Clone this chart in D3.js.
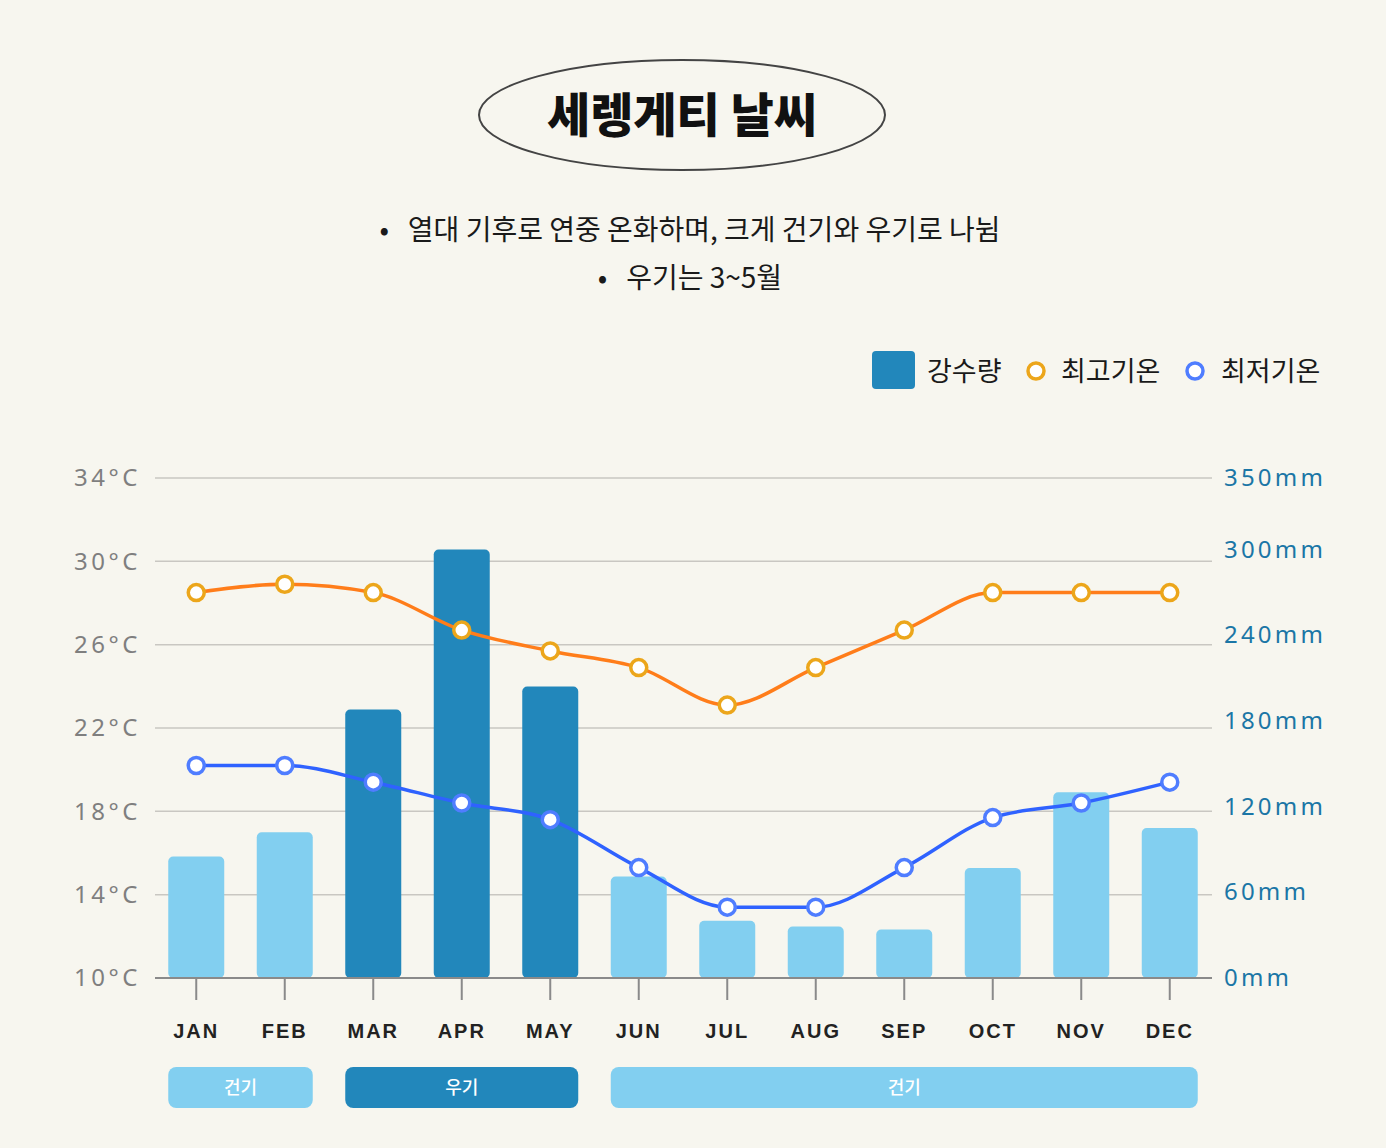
<!DOCTYPE html>
<html>
<head>
  <meta charset="utf-8">
  <title>세렝게티 날씨</title>
  <script src="https://d3js.org/d3.v7.min.js"></script>
  <style>
    html, body { margin: 0; padding: 0; background: #f7f6ef; }
    svg { display: block; font-family: "Noto Sans CJK KR", "Noto Sans", sans-serif; }
    .note { white-space: pre; }
  </style>
</head>
<body>
  <div id="chartholder"></div>

  <script type="text/javascript">
    // data
    var months = ["JAN", "FEB", "MAR", "APR", "MAY", "JUN", "JUL", "AUG", "SEP", "OCT", "NOV", "DEC"];
    var rainfall = [85, 102, 188, 300, 204, 71, 40, 36, 34, 77, 130, 105];
    var rainySeason = [false, false, true, true, true, false, false, false, false, false, false, false];
    var maxTemp = [28.5, 28.9, 28.5, 26.7, 25.7, 24.9, 23.1, 24.9, 26.7, 28.5, 28.5, 28.5];
    var minTemp = [20.2, 20.2, 19.4, 18.4, 17.6, 15.3, 13.4, 13.4, 15.3, 17.7, 18.4, 19.4];
    var tempTicks = [10, 14, 18, 22, 26, 30, 34];
    var rainTicks = [0, 60, 120, 180, 240, 300, 350];
    var seasons = [
      { label: "건기", from: "JAN", to: "FEB", rainy: false },
      { label: "우기", from: "MAR", to: "MAY", rainy: true },
      { label: "건기", from: "JUN", to: "DEC", rainy: false }
    ];
    var notes = ["•   열대 기후로 연중 온화하며, 크게 건기와 우기로 나뉨", "•   우기는 3~5월"];

    var W = 1386, H = 1148;
    var plotTop = 478, plotBottom = 978, plotLeft = 155, plotRight = 1212;
    var colDry = "#82cff0", colWet = "#2287bb";
    var colMax = "#ff7d1a", colMaxPt = "#eca61b";
    var colMin = "#2f62ff", colMinPt = "#4f7dff";

    var svg = d3.select("#chartholder").append("svg")
      .attr("width", W).attr("height", H);

    svg.append("rect").attr("width", W).attr("height", H).attr("fill", "#f7f6ef");

    // title
    svg.append("ellipse")
      .attr("cx", 682).attr("cy", 115).attr("rx", 203).attr("ry", 55)
      .attr("fill", "none").attr("stroke", "#444").attr("stroke-width", 2);
    svg.append("text")
      .attr("x", 682).attr("y", 132)
      .attr("text-anchor", "middle")
      .attr("font-size", 47).attr("font-weight", 900).attr("fill", "#111")
      .text("세렝게티 날씨");

    svg.selectAll(".note").data(notes).enter().append("text")
      .attr("class", "note")
      .attr("x", 690).attr("y", function(d, i) { return 240 + i * 48; })
      .attr("text-anchor", "middle")
      .attr("font-size", 28).attr("fill", "#1a1a1a")
      .text(function(d) { return d; });

    // scales
    var x = d3.scaleBand().domain(months).range([152, 1214]);
    var barW = 56;
    var yT = d3.scaleLinear().domain([10, 34]).range([plotBottom, plotTop]);
    var yR = d3.scaleLinear().domain([0, 350]).range([plotBottom, plotTop]);
    var cx = function(m) { return x(m) + x.bandwidth() / 2; };

    // grid
    svg.append("g").selectAll("line").data(tempTicks.slice(1)).enter().append("line")
      .attr("x1", plotLeft).attr("x2", plotRight)
      .attr("y1", function(d) { return yT(d); }).attr("y2", function(d) { return yT(d); })
      .attr("stroke", "#c9c7c2").attr("stroke-width", 1.5);

    // left axis
    var leftAxis = d3.axisLeft(yT).tickValues(tempTicks).tickSize(0).tickPadding(0)
      .tickFormat(function(d) { return d + "°C"; });
    var gl = svg.append("g").attr("transform", "translate(141,0)").call(leftAxis);
    gl.select(".domain").remove();
    gl.selectAll("text")
      .attr("font-size", 24).attr("fill", "#7f7f7f")
      .attr("letter-spacing", "3.5px").attr("font-family", "'Noto Sans', sans-serif");

    // right axis
    var rightAxis = d3.axisRight(yR).tickValues(rainTicks).tickSize(0).tickPadding(0)
      .tickFormat(function(d) { return d + "mm"; });
    var gr = svg.append("g").attr("transform", "translate(1224,0)").call(rightAxis);
    gr.select(".domain").remove();
    gr.selectAll("text")
      .attr("font-size", 24).attr("fill", "#1b76a6")
      .attr("letter-spacing", "3.2px").attr("font-family", "'Noto Sans', sans-serif");

    // bars
    svg.append("g").selectAll("rect").data(months).enter().append("rect")
      .attr("x", function(d) { return cx(d) - barW / 2; })
      .attr("y", function(d, i) { return yR(rainfall[i]); })
      .attr("width", barW)
      .attr("height", function(d, i) { return plotBottom - yR(rainfall[i]); })
      .attr("rx", 5)
      .attr("fill", function(d, i) { return rainySeason[i] ? colWet : colDry; });

    // baseline and ticks
    var xAxis = d3.axisBottom(x).tickSize(22).tickPadding(24).tickSizeOuter(0);
    var gx = svg.append("g").attr("transform", "translate(0," + plotBottom + ")").call(xAxis);
    gx.select(".domain").attr("d", "M" + plotLeft + ",0H" + plotRight).attr("stroke", "#8a8a8a").attr("stroke-width", 2);
    gx.selectAll(".tick line").attr("stroke", "#8a8a8a").attr("stroke-width", 2);
    gx.selectAll(".tick text")
      .attr("font-size", 20).attr("font-weight", 700).attr("fill", "#222")
      .attr("letter-spacing", "2px");

    // lines
    var tempLine = d3.line()
      .x(function(d, i) { return cx(months[i]); })
      .y(function(d) { return yT(d); })
      .curve(d3.curveMonotoneX);

    svg.append("path").datum(maxTemp).attr("d", tempLine)
      .attr("fill", "none").attr("stroke", colMax).attr("stroke-width", 3.5);
    svg.append("path").datum(minTemp).attr("d", tempLine)
      .attr("fill", "none").attr("stroke", colMin).attr("stroke-width", 3.5);

    svg.append("g").selectAll("circle").data(maxTemp).enter().append("circle")
      .attr("cx", function(d, i) { return cx(months[i]); })
      .attr("cy", function(d) { return yT(d); })
      .attr("r", 8).attr("fill", "#fff").attr("stroke", colMaxPt).attr("stroke-width", 3.5);
    svg.append("g").selectAll("circle").data(minTemp).enter().append("circle")
      .attr("cx", function(d, i) { return cx(months[i]); })
      .attr("cy", function(d) { return yT(d); })
      .attr("r", 8).attr("fill", "#fff").attr("stroke", colMinPt).attr("stroke-width", 3.5);

    // season strip
    var gs = svg.append("g").selectAll("g").data(seasons).enter().append("g");
    gs.append("rect")
      .attr("x", function(d) { return cx(d.from) - barW / 2; })
      .attr("y", 1067)
      .attr("width", function(d) { return cx(d.to) - cx(d.from) + barW; })
      .attr("height", 41).attr("rx", 8)
      .attr("fill", function(d) { return d.rainy ? colWet : colDry; });
    gs.append("text")
      .attr("x", function(d) { return (cx(d.from) + cx(d.to)) / 2; })
      .attr("y", 1094)
      .attr("text-anchor", "middle")
      .attr("font-size", 18).attr("font-weight", 500).attr("fill", "#fff")
      .text(function(d) { return d.label; });

    // legend
    var lg = svg.append("g");
    lg.append("rect").attr("x", 872).attr("y", 351).attr("width", 43).attr("height", 38)
      .attr("rx", 4).attr("fill", colWet);
    lg.append("text").attr("x", 927).attr("y", 381).attr("font-size", 27).attr("fill", "#1a1a1a").text("강수량");
    lg.append("circle").attr("cx", 1036).attr("cy", 371).attr("r", 8)
      .attr("fill", "#fff").attr("stroke", colMaxPt).attr("stroke-width", 3.5);
    lg.append("text").attr("x", 1061).attr("y", 381).attr("font-size", 27).attr("fill", "#1a1a1a").text("최고기온");
    lg.append("circle").attr("cx", 1195).attr("cy", 371).attr("r", 8)
      .attr("fill", "#fff").attr("stroke", colMinPt).attr("stroke-width", 3.5);
    lg.append("text").attr("x", 1221).attr("y", 381).attr("font-size", 27).attr("fill", "#1a1a1a").text("최저기온");
  </script>
</body>
</html>
